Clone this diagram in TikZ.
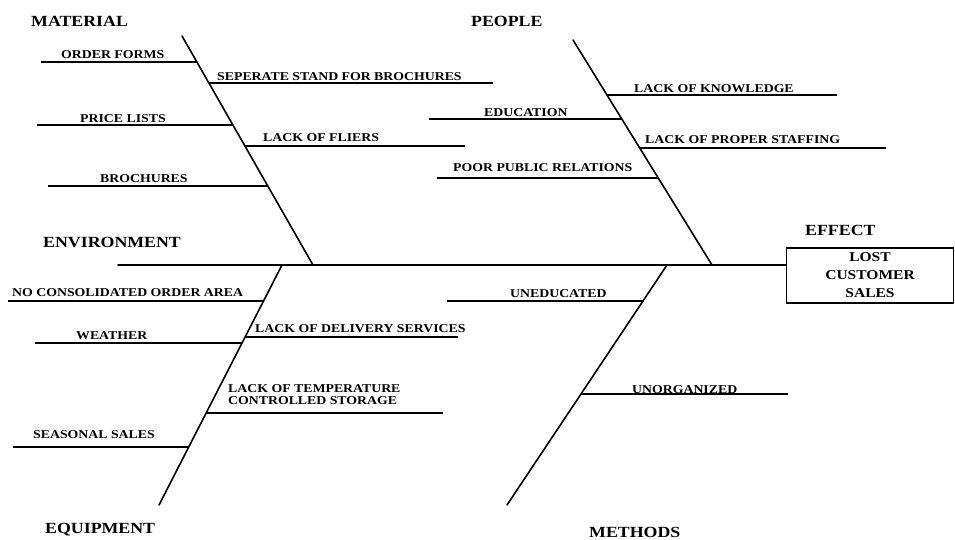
\documentclass[tikz,border=0pt]{standalone}
\usepackage{fontspec}
\newfontfamily\fishfont{Liberation Serif}[FakeStretch=1.15]
\usetikzlibrary{positioning}
\tikzstyle{bone}      = [line width=1.6pt, line cap=round]
\tikzstyle{rib}       = [line width=1.4pt]
\tikzstyle{cause}     = [inner sep=0pt, anchor=base west, align=left, font=\fishfont\bfseries\fontsize{12}{12}\selectfont]
\tikzstyle{category}  = [inner sep=0pt, anchor=west, font=\fishfont\bfseries\fontsize{15.5}{16}\selectfont]
\tikzstyle{effectbox} = [draw, line width=1.2pt, inner sep=0pt, minimum width=167pt, minimum height=55pt, align=center, font=\fishfont\bfseries\fontsize{13.5}{18}\selectfont]

\begin{document}
\begin{tikzpicture}[x=1pt,y=-1pt]
\useasboundingbox (0,0) rectangle (955,539);

% effect and spine
\node[effectbox] (effect) at (870,275.5) {LOST\\CUSTOMER\\SALES};
\node[category] (effT) at (805,230) {EFFECT};
\coordinate (spine) at (118,265);
\draw[bone] (spine) -- (spine -| effect.west);

% main bones
\coordinate (matT) at (182,36);  \coordinate (matB) at (313,265);
\coordinate (peoT) at (573,40);  \coordinate (peoB) at (712,265);
\coordinate (equT) at (282,265); \coordinate (equB) at (159,505);
\coordinate (metT) at (667,265); \coordinate (metB) at (507,505);
\draw[bone] (matT) -- (matB);
\draw[bone] (peoT) -- (peoB);
\draw[bone] (equT) -- (equB);
\draw[bone] (metT) -- (metB);

% categories
\node[category] (matC) at (31,21)  {MATERIAL};
\node[category] (peoC) at (471,21) {PEOPLE};
\node[category] (envC) at (43,242) {ENVIRONMENT};
\node[category] (equC) at (45,530) {EQUIPMENT};
\node[category] (metC) at (589,532) {METHODS};

% causes
\foreach \xa/\xb/\y/\xt/\yt/\txt [count=\i] in {
    41/197/62/61/58/ORDER FORMS,
    209/493/83/217/80/SEPERATE STAND FOR BROCHURES,
    37/233/125/80/122/PRICE LISTS,
    245/465/146/263/141/LACK OF FLIERS,
    48/268/186/100/182/BROCHURES,
    607/837/95/634/92/LACK OF KNOWLEDGE,
    429/622/119/484/116/EDUCATION,
    640/886/148/645/143/LACK OF PROPER STAFFING,
    437/658/178/453/171/POOR PUBLIC RELATIONS,
    8/264/301/12/296/NO CONSOLIDATED ORDER AREA,
    35/242/343/76/339/WEATHER,
    245/458/337/255/332/LACK OF DELIVERY SERVICES,
    13/189/447/33/438/SEASONAL SALES,
    447/643/301/510/297/UNEDUCATED,
    581/788/394/632/393/UNORGANIZED}{
  \coordinate (r\i a) at (\xa,\y);
  \coordinate (r\i b) at (\xb,\y);
  \draw[rib] (r\i a) -- (r\i b);
  \node[cause] (c\i) at (\xt,\yt) {\txt};
}

\coordinate (tempA) at (206,413);
\coordinate (tempB) at (443,413);
\draw[rib] (tempA) -- (tempB);
\node[cause, anchor=south west] (temp) at (228,405) {LACK OF TEMPERATURE\\CONTROLLED STORAGE};

\end{tikzpicture}
\end{document}
